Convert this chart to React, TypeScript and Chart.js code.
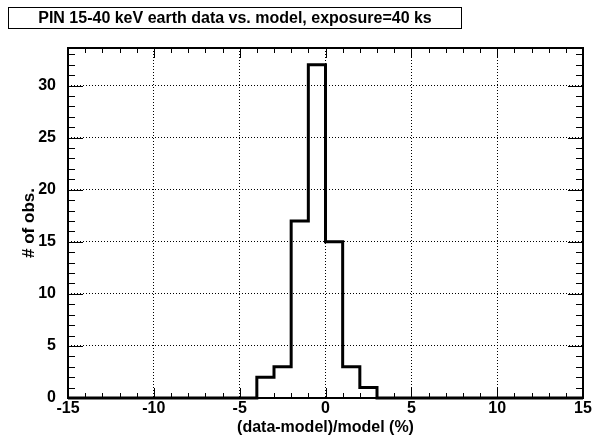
import React, { useEffect, useRef } from 'react';
import { Chart, registerables } from 'chart.js';
Chart.register(...registerables);

const titleText = 'PIN 15-40 keV earth data vs. model, exposure=40 ks';
const xAxisTitle = '(data-model)/model (%)';
const yAxisTitle = '# of obs.';
const binLow = -15;
const binWidth = 1;
const counts = [0, 0, 0, 0, 0, 0, 0, 0, 0, 0, 0, 2, 3, 17, 32, 15, 3, 1, 0, 0, 0, 0, 0, 0, 0, 0, 0, 0, 0, 0];
const xMin = -15;
const xMax = 15;
const yMin = 0;
const yMax = 33.6;
const xTickValues = [-15, -10, -5, 0, 5, 10, 15];
const yTickValues = [0, 5, 10, 15, 20, 25, 30];

const FONT = "'Liberation Sans', Arial, Helvetica, sans-serif";

const framePlugin = {
  id: 'rootFrame',
  afterDatasetsDraw(chart: any) {
    const { ctx, chartArea: a, scales } = chart;
    const xs = scales.x;
    const ys = scales.y;
    ctx.save();
    ctx.strokeStyle = '#000';
    ctx.lineWidth = 1;
    ctx.beginPath();
    for (let v = xMin; v <= xMax; v += 1) {
      const px = Math.round(xs.getPixelForValue(v)) + 0.5;
      const len = v % 5 === 0 ? 10 : 5;
      ctx.moveTo(px, a.bottom);
      ctx.lineTo(px, a.bottom - len);
      ctx.moveTo(px, a.top);
      ctx.lineTo(px, a.top + len);
    }
    for (let v = yMin; v <= yMax; v += 1) {
      const py = Math.round(ys.getPixelForValue(v)) + 0.5;
      const len = v % 5 === 0 ? 15 : 7;
      ctx.moveTo(a.left, py);
      ctx.lineTo(a.left + len, py);
      ctx.moveTo(a.right, py);
      ctx.lineTo(a.right - len, py);
    }
    ctx.stroke();
    ctx.lineWidth = 2;
    ctx.strokeRect(a.left, a.top, a.right - a.left, a.bottom - a.top);
    ctx.restore();
  },
  afterDraw(chart: any) {
    const { ctx } = chart;
    ctx.save();
    ctx.fillStyle = '#fff';
    ctx.fillRect(8, 7, 454, 22);
    ctx.strokeStyle = '#000';
    ctx.lineWidth = 1;
    ctx.strokeRect(8.5, 7.5, 453, 21);
    ctx.fillStyle = '#000';
    ctx.font = `bold 16px ${FONT}`;
    ctx.textAlign = 'center';
    ctx.textBaseline = 'middle';
    ctx.fillText(titleText, 235, 18.5);
    ctx.restore();
  },
};

export default function App() {
  const ref = useRef<HTMLCanvasElement | null>(null);
  useEffect(() => {
    document.body.style.margin = '0';
    const pts: { x: number; y: number }[] = counts.map((c, i) => ({ x: binLow + i * binWidth, y: c }));
    pts.push({ x: binLow + counts.length * binWidth, y: 0 });
    const tickFont = { family: FONT, size: 16, weight: 'bold' as const };
    const yTitleFont = { family: FONT, size: 17, weight: 'bold' as const };
    const chart = new Chart(ref.current as HTMLCanvasElement, {
      type: 'line',
      data: {
        datasets: [
          {
            data: pts,
            stepped: 'before',
            borderColor: '#000',
            borderWidth: 3,
            pointRadius: 0,
            fill: false,
            clip: false as any,
          },
        ],
      },
      options: {
        animation: false,
        responsive: false,
        devicePixelRatio: 1,
        layout: { padding: { left: 0, right: 15, top: 48, bottom: 0 } },
        plugins: { legend: { display: false }, tooltip: { enabled: false }, title: { display: false } },
        scales: {
          x: {
            type: 'linear',
            min: xMin,
            max: xMax,
            afterBuildTicks: (s: any) => {
              s.ticks = xTickValues.map((v) => ({ value: v }));
            },
            afterFit: (s: any) => {
              s.height = 44;
            },
            ticks: { font: tickFont, color: '#000', padding: 1, maxRotation: 0, autoSkip: false },
            grid: { color: '#000', lineWidth: 1, drawTicks: false },
            border: { display: false, dash: [1, 2] },
            title: { display: true, text: xAxisTitle, font: tickFont, color: '#000', padding: { top: 0, bottom: 5 } },
          },
          y: {
            type: 'linear',
            min: yMin,
            max: yMax,
            afterBuildTicks: (s: any) => {
              s.ticks = yTickValues.map((v) => ({ value: v }));
            },
            afterFit: (s: any) => {
              s.width = 68;
            },
            ticks: { font: tickFont, color: '#000', padding: 12, autoSkip: false },
            grid: { color: '#000', lineWidth: 1, drawTicks: false },
            border: { display: false, dash: [1, 2] },
            title: { display: true, text: yAxisTitle, font: yTitleFont, color: '#000', padding: { top: 19, bottom: 0 } },
          },
        },
      },
      plugins: [framePlugin],
    });
    return () => chart.destroy();
  }, []);
  return <canvas ref={ref} width={598} height={442} style={{ display: 'block' }} />;
}
